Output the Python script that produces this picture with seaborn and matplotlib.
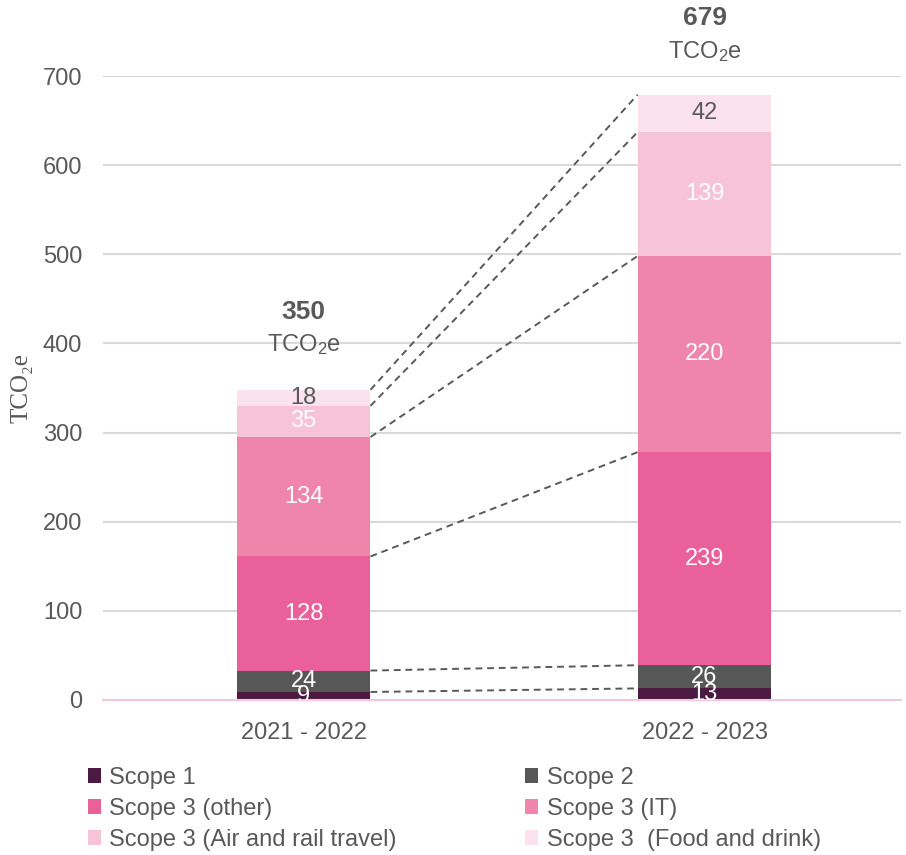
import numpy as np
import pandas as pd
import matplotlib as mpl
mpl.use('Agg')
import matplotlib.pyplot as plt
from matplotlib.patches import Patch
import seaborn as sns

# data
periods = ['2021 - 2022', '2022 - 2023']
segments = ['Scope 1', 'Scope 2', 'Scope 3 (other)', 'Scope 3 (IT)',
            'Scope 3 (Air and rail travel)', 'Scope 3  (Food and drink)']
scope1 = [9, 13]
scope2 = [24, 26]
scope3_other = [128, 239]
scope3_it = [134, 220]
scope3_travel = [35, 139]
scope3_food = [18, 42]
totals = [350, 679]

colors = ['#4b1942', '#575757', '#e9609a', '#ef85ab', '#f7c3d7', '#fbe2ec']
label_colors = ['white', 'white', 'white', 'white', 'white', '#595959']
grey = '#595959'

sns.set_theme(style='white')
plt.rcParams['font.family'] = ['Liberation Sans', 'DejaVu Sans']
plt.rcParams['mathtext.fontset'] = 'custom'
plt.rcParams['mathtext.rm'] = 'Liberation Sans'
plt.rcParams['mathtext.it'] = 'Liberation Sans:italic'

values = np.array([scope1, scope2, scope3_other, scope3_it, scope3_travel, scope3_food], dtype=float)
tops = values.cumsum(axis=0)
bottoms = tops - values

fig = plt.figure(figsize=(9.06, 8.55), dpi=100)
ax = fig.add_axes([0.1137, 0.1813, 0.8808, 0.7298])

width = 0.334
# stacked bars drawn as overlapping cumulative bars, tallest first
for i in reversed(range(len(segments))):
    df = pd.DataFrame({'period': periods, 'value': tops[i]})
    sns.barplot(data=df, x='period', y='value', color=colors[i], width=width,
                linewidth=0, saturation=1, errorbar=None, ax=ax, zorder=2)

# segment labels
for i in range(len(segments)):
    for j in range(len(periods)):
        ax.text(j, bottoms[i, j] + values[i, j] / 2, f'{values[i, j]:.0f}',
                ha='center', va='center', fontsize=17, color=label_colors[i],
                clip_on=True, zorder=4)

# dashed connectors between bars
for i in range(len(segments)):
    ax.plot([0 + width / 2, 1 - width / 2], [tops[i, 0], tops[i, 1]],
            ls=(0, (3.5, 2.5)), color=grey, lw=1.4, zorder=3)

# totals above bars
for j, t in enumerate(totals):
    ax.annotate(f'{t}', (j, t), xytext=(0, 55), textcoords='offset points',
                ha='center', va='center', fontsize=19, fontweight='bold',
                color=grey, annotation_clip=False)
    ax.annotate('TCO$_2$e', (j, t), xytext=(0, 31), textcoords='offset points',
                ha='center', va='center', fontsize=17, color=grey,
                annotation_clip=False)

ax.set_ylim(0, 700)
ax.set_xlim(-0.5, 1.49)
ax.set_yticks(range(0, 701, 100))
ax.yaxis.grid(True, color='#d9d9d9', lw=1.5)
ax.set_axisbelow(True)
for s in ['top', 'right', 'left']:
    ax.spines[s].set_visible(False)
ax.spines['bottom'].set_color('#f4c6e0')
ax.spines['bottom'].set_linewidth(1.5)
ax.tick_params(axis='y', length=0, pad=15, labelsize=17, labelcolor=grey)
ax.tick_params(axis='x', length=0, pad=16, labelsize=17, labelcolor=grey)
ax.set_xlabel('')
ax.set_ylabel('TCO\u2082e', fontsize=18, color=grey,
              family=['Liberation Serif', 'DejaVu Serif'], labelpad=7)

# legend filled row by row, like the reference
order = [0, 2, 4, 1, 3, 5]
handles = [Patch(facecolor=colors[k], edgecolor='none') for k in order]
labels = [segments[k] for k in order]
fig.legend(handles, labels, ncol=2, loc='upper left', bbox_to_anchor=(0.097, 0.103),
           frameon=False, fontsize=17, handlelength=0.55, handleheight=0.55,
           handletextpad=0.35, columnspacing=5.45, labelspacing=0.38,
           borderpad=0, borderaxespad=0, labelcolor=grey)

fig.savefig('out.png', dpi=100)
